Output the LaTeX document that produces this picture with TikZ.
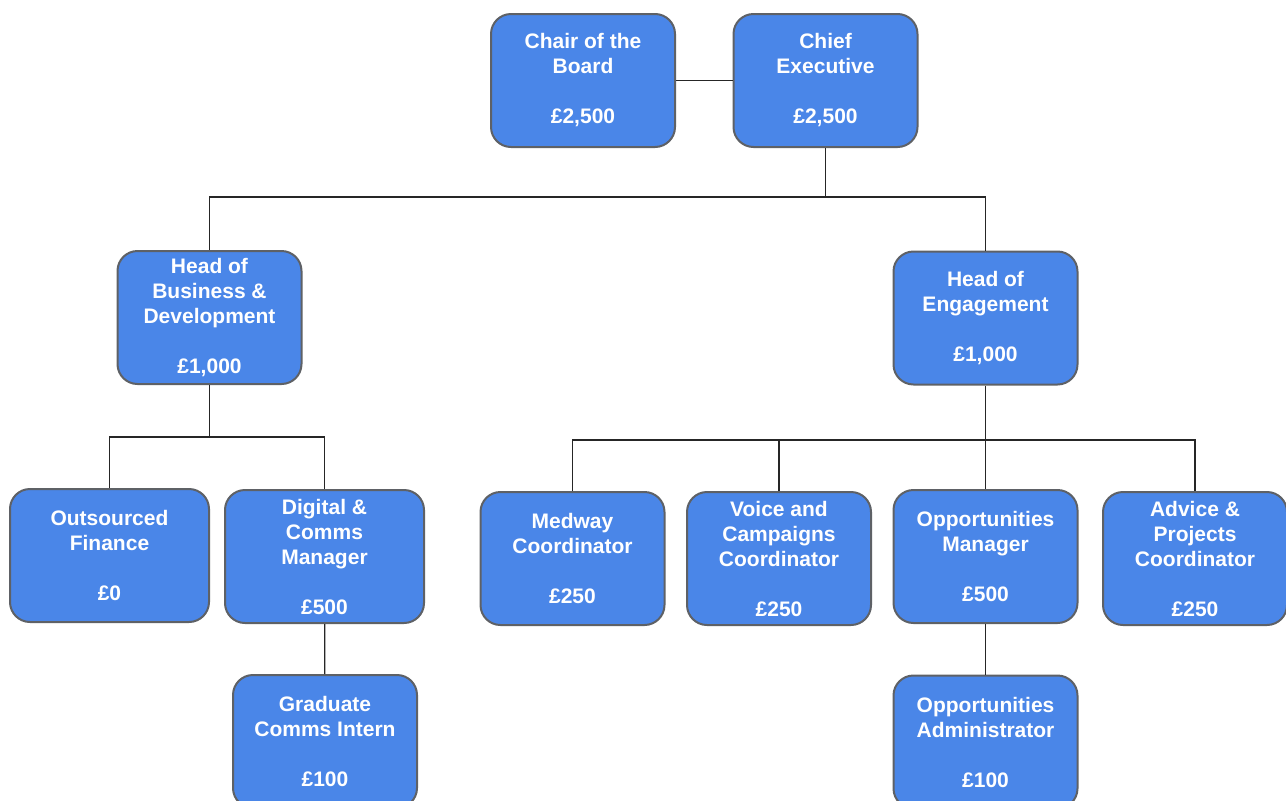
\documentclass[tikz,border=0pt]{standalone}
\usepackage{fontspec}
\setmainfont{Liberation Sans}
\definecolor{rolefill}{HTML}{4A86E8}
\definecolor{roleedge}{HTML}{5E6166}

\begin{document}
\begin{tikzpicture}[x=1pt,y=-1pt,
    role/.style={draw=roleedge,line width=2pt,fill=rolefill,rounded corners=20pt,
      minimum width=184pt,minimum height=133pt,inner sep=0pt,align=center,
      text=white,font=\fontsize{21}{25}\selectfont\bfseries},
    link/.style={line width=1.3pt,draw=black!85}]
    \path[use as bounding box,fill=white] (0,0) rectangle (1286,801);
    %board
    \node[role] (chair) at (583,80.5) {Chair of the\\Board\\[25pt]£2,500};
    \node[role] (chief) at (825.5,80.5) {Chief\\Executive\\[25pt]£2,500};
    %heads
    \node[role] (headbd) at (209.5,317.5) {Head of\\Business \&\\Development\\[25pt]£1,000};
    \node[role] (headeng) at (985.5,318) {Head of\\Engagement\\[25pt]£1,000};
    %business team
    \node[role,minimum width=199pt] (outfin) at (109.5,555.5) {Outsourced\\Finance\\[25pt]£0};
    \node[role,minimum width=199pt] (digital) at (324.5,556.5) {Digital \&\\Comms\\Manager\\[25pt]£500};
    \node[role] (gradint) at (325,741.5) {Graduate\\Comms Intern\\[25pt]£100};
    %engagement team
    \node[role] (medway) at (572.5,558.5) {Medway\\Coordinator\\[25pt]£250};
    \node[role] (voice) at (779,558.5) {Voice and\\Campaigns\\Coordinator\\[25pt]£250};
    \node[role] (oppman) at (985.5,556.5) {Opportunities\\Manager\\[25pt]£500};
    \node[role] (advice) at (1195,558.5) {Advice \&\\Projects\\Coordinator\\[25pt]£250};
    \node[role] (oppadmin) at (985.5,742) {Opportunities\\Administrator\\[25pt]£100};
    %links
    \coordinate (topbus) at (825.5,197);
    \coordinate (bdbus) at (209.5,437);
    \coordinate (engbus) at (985.5,440);
    \draw[link] (chair) -- (chief);
    \draw[link] (chief) -- (topbus);
    \draw[link] (headbd.north) |- (topbus) -| (headeng.north);
    \draw[link] (headbd) -- (bdbus);
    \draw[link] (outfin.north) |- (bdbus) -| (digital.north);
    \draw[link] (digital) -- (gradint);
    \draw[link] (headeng) -- (engbus);
    \draw[link] (medway.north) |- (engbus) -| (advice.north);
    \draw[link] (voice.north) -- (voice.north |- engbus);
    \draw[link] (engbus) -- (oppman);
    \draw[link] (oppman) -- (oppadmin);
  \end{tikzpicture}
\end{document}
